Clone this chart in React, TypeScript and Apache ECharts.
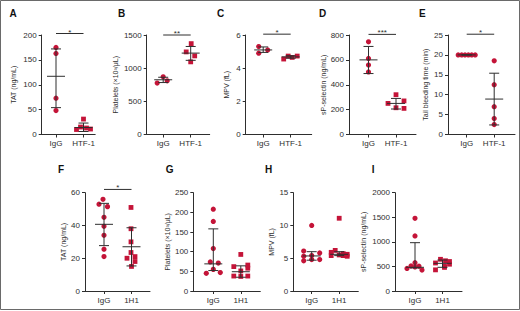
import React, { useEffect, useRef } from 'react';
import * as echarts from 'echarts';

const FONT = 'Liberation Sans, Arial, Helvetica, sans-serif';
const RED = '#c41438';
const INK = '#2e2e2e';

// ---------- text / axis data ----------
const panelLetters = ['A', 'B', 'C', 'D', 'E', 'F', 'G', 'H', 'I'];
const topCategories = ['IgG', 'HTF-1'];
const bottomCategories = ['IgG', '1H1'];
const yTitles = [
  'TAT (ng/mL)',
  'Platelets (×10³/μL)',
  'MPV (fL)',
  'sP-selectin (ng/mL)',
  'Tail bleeding time (min)',
  'TAT (ng/mL)',
  'Platelets (×10³/μL)',
  'MPV (fL)',
  'sP-selectin (ng/mL)',
];
const yMaxes = [200, 1500, 6, 800, 25, 60, 250, 15, 2000];
const yIntervals = [50, 500, 2, 200, 5, 20, 50, 5, 500];

// ---------- values ----------
const aIgG = [175, 163, 73, 48];
const aHTF1 = [31, 15, 13, 10, 11];
const aSummary = [[117, 54, 172], [14, 6, 23]]; // [centre, low, high]

const bIgG = [870, 810, 775];
const bHTF1 = [1370, 1245, 1185, 1095];
const bSummary = [[825, 783, 863], [1227, 1118, 1327]];

const cIgG = [5.3, 5.1, 4.9];
const cHTF1 = [4.55, 4.73, 4.65, 4.73];
const cSummary = [[5.1, 4.95, 5.28], [4.68, 4.6, 4.75]];

const dIgG = [745, 612, 558, 503];
const dHTF1 = [320, 270, 250, 215, 210];
const dSummary = [[600, 490, 708], [250, 205, 290]];

const eIgG = [20, 20, 20, 20, 20, 20];
const eHTF1 = [18.5, 12.5, 7, 4, 2.5];
const eSummary = [[20, 20, 20], [8.9, 2.4, 15.4]];

const fIgG = [56, 53, 51.5, 45, 39.5, 34, 25.5, 21];
const f1H1 = [51, 38, 30, 23.5, 20, 21, 18, 15];
const fSummary = [[40.7, 27.7, 53.5], [27, 15.3, 38.6]];

const gIgG = [208, 177, 108, 74, 71, 55, 45, 47];
const g1H1 = [93, 66, 62, 58, 51, 38, 37, 38];
const gSummary = [[69, 52, 158], [49, 35, 64]];

const hIgG = [10, 6.1, 5.8, 5.4, 5.3, 4.8, 4.8, 4.6];
const h1H1 = [11.1, 6.2, 5.9, 5.7, 5.6, 5.5, 5.4, 5.4, 5.3];
const hSummary = [[5.35, 4.7, 6.0], [5.6, 5.4, 6.0]];

const iIgG = [1480, 1120, 575, 510, 505, 490, 460, 425];
const i1H1 = [645, 615, 600, 570, 545, 500, 480, 430];
const iSummary = [[482, 470, 983], [563, 482, 630]];

const sigTexts = ['*', '**', '*', '***', '*', '*'];
const sigLevels = [203, 1500, 6.05, 805, 25.2, 62];

// ---------- layout / style (pixels) ----------
const jitter: number[][][] = [
  [[0, 0, 0, 0], [0, -3, 3, -7, 7]],
  [[0, 4, -6], [0.5, -4.5, 4, 0]],
  [[-4.5, 4.5, -4.5], [-7, -2.5, 1.5, 6.5]],
  [[0, 0, 0, 0], [0, 8, -8, 0, 8]],
  [[-8.5, -5, -1.7, 1.7, 5, 8.5], [0, 0, 0, 0, 0]],
  [[-1, -5, 3.5, 0, 0, 0, 0, 0], [-0.5, -0.5, -0.5, -0.5, -4.5, 3.5, 3.5, 0]],
  [[0, 0, 0, -3, 5, 0, -7, 7], [0, 7, -7, 7, 0, -7, 0, 7]],
  [[0, -8, 8, 0, -8, 0, 8, -8], [0, -4, -8, 4, 8, 0, -8, 4, 8]],
  [[0, 0, 0, -4, 4, 0, -8, 7], [-2, 3, 7, -7, 7, 2, 2, -7]],
];
const gridLefts = [41.7, 146.7, 245.7, 349, 448, 85, 193.3, 293.3, 395];
const gridWidths = [53.5, 63, 66, 67, 67, 65, 67, 65, 67];
const firstOffsets = [14.3, 16.5, 17.5, 19.5, 18.7, 19, 20, 18.4, 20];
const nameGaps = [24.5, 27.5, 15.5, 21, 19, 13, 21, 18.5, 28];
const letterPos = [
  [9.5, 8], [118, 8], [217, 8], [319, 8], [419, 8],
  [58, 164], [165.7, 164], [265, 164], [371.7, 164],
];
const SPACING = 27.5;

const panelValues = [
  [aIgG, aHTF1], [bIgG, bHTF1], [cIgG, cHTF1], [dIgG, dHTF1], [eIgG, eHTF1],
  [fIgG, f1H1], [gIgG, g1H1], [hIgG, h1H1], [iIgG, i1H1],
];
const panelSummaries = [aSummary, bSummary, cSummary, dSummary, eSummary, fSummary, gSummary, hSummary, iSummary];

function buildOption() {
  const grid: any[] = [];
  const xAxis: any[] = [];
  const yAxis: any[] = [];
  const series: any[] = [];
  const graphic: any[] = [
    {
      type: 'rect',
      shape: { x: 0.5, y: 0.5, width: 519, height: 309 },
      style: { fill: 'none', stroke: '#6a6a6a', lineWidth: 1 },
      silent: true,
      z: -1,
    },
  ];

  for (let i = 0; i < 9; i++) {
    const top = i < 5;
    const cats = top ? topCategories : bottomCategories;
    grid.push({
      left: gridLefts[i],
      top: top ? 35 : 192.7,
      width: gridWidths[i],
      height: top ? 99.5 : 98.3,
    });
    const minX = -firstOffsets[i] / SPACING;
    xAxis.push({
      gridIndex: i,
      type: 'value',
      min: minX,
      max: minX + gridWidths[i] / SPACING,
      axisLine: { show: true, onZero: false, lineStyle: { color: INK, width: 1 } },
      axisTick: { show: true, customValues: [0, 1], length: 3, lineStyle: { color: INK } },
      axisLabel: {
        show: true,
        customValues: [0, 1],
        formatter: (v: number) => cats[Math.round(v)] ?? '',
        fontSize: 8,
        color: INK,
        margin: 5,
        fontFamily: FONT,
      },
      splitLine: { show: false },
    });
    yAxis.push({
      gridIndex: i,
      type: 'value',
      min: 0,
      max: yMaxes[i],
      interval: yIntervals[i],
      axisLine: { show: true, onZero: false, lineStyle: { color: INK, width: 1 } },
      axisTick: { show: true, length: 3, lineStyle: { color: INK } },
      axisLabel: {
        fontSize: 8,
        color: INK,
        margin: 5,
        fontFamily: FONT,
        formatter: (v: number) => String(v),
      },
      splitLine: { show: false },
      name: yTitles[i],
      nameLocation: 'middle',
      nameGap: nameGaps[i],
      nameTextStyle: { fontSize: 7, color: INK, fontFamily: FONT },
    });

    panelValues[i].forEach((vals, g) => {
      const isCircle = g === 0 || i === 4;
      series.push({
        type: 'scatter',
        xAxisIndex: i,
        yAxisIndex: i,
        symbol: isCircle ? 'circle' : 'rect',
        symbolSize: isCircle ? 5.2 : 4.8,
        itemStyle: { color: RED, opacity: 1 },
        z: 2,
        data: vals.map((v, k) => ({ value: [g, v], symbolOffset: [jitter[i][g][k] ?? 0, 0] })),
      });
    });

    series.push({
      type: 'custom',
      xAxisIndex: i,
      yAxisIndex: i,
      clip: false,
      z: 3,
      encode: { x: 0, y: [1, 2, 3] },
      data: panelSummaries[i].map((s, g) => [g, s[0], s[1], s[2]]),
      renderItem: (params: any, api: any) => {
        const x = api.value(0);
        const c = api.coord([x, api.value(1)]);
        const lo = api.coord([x, api.value(2)]);
        const hi = api.coord([x, api.value(3)]);
        const st = { stroke: INK, lineWidth: 1, fill: 'none' };
        return {
          type: 'group',
          children: [
            { type: 'line', shape: { x1: c[0] - 9, y1: c[1], x2: c[0] + 9, y2: c[1] }, style: st },
            { type: 'line', shape: { x1: lo[0], y1: lo[1], x2: hi[0], y2: hi[1] }, style: st },
            { type: 'line', shape: { x1: lo[0] - 5, y1: lo[1], x2: lo[0] + 5, y2: lo[1] }, style: st },
            { type: 'line', shape: { x1: hi[0] - 5, y1: hi[1], x2: hi[0] + 5, y2: hi[1] }, style: st },
          ],
        };
      },
    });

    if (i < sigTexts.length) {
      const txt = sigTexts[i];
      series.push({
        type: 'custom',
        xAxisIndex: i,
        yAxisIndex: i,
        clip: false,
        z: 3,
        encode: { x: [0, 1], y: 2 },
        data: [[0, 1, sigLevels[i]]],
        renderItem: (params: any, api: any) => {
          const p0 = api.coord([api.value(0), api.value(2)]);
          const p1 = api.coord([api.value(1), api.value(2)]);
          return {
            type: 'group',
            children: [
              {
                type: 'line',
                shape: { x1: p0[0], y1: p0[1], x2: p1[0], y2: p1[1] },
                style: { stroke: INK, lineWidth: 1 },
              },
              {
                type: 'text',
                style: {
                  text: txt,
                  x: (p0[0] + p1[0]) / 2,
                  y: p0[1] + 2.5,
                  fill: INK,
                  fontSize: 8,
                  fontFamily: FONT,
                  align: 'center',
                  verticalAlign: 'bottom',
                  textAlign: 'center',
                  textVerticalAlign: 'bottom',
                },
              },
            ],
          };
        },
      });
    }

    graphic.push({
      type: 'text',
      left: letterPos[i][0],
      top: letterPos[i][1],
      style: { text: panelLetters[i], fill: '#111', font: `bold 10px ${FONT}` },
    });
  }

  return {
    animation: false,
    backgroundColor: '#ffffff',
    textStyle: { fontFamily: FONT },
    grid,
    xAxis,
    yAxis,
    series,
    graphic,
  };
}

export default function App() {
  const ref = useRef<HTMLDivElement>(null);
  useEffect(() => {
    document.body.style.margin = '0';
    const chart = echarts.init(ref.current!, null, { renderer: 'svg' });
    chart.setOption(buildOption() as any);
    return () => chart.dispose();
  }, []);
  return <div ref={ref} style={{ position: 'absolute', left: 0, top: 0, width: 520, height: 311 }} />;
}
